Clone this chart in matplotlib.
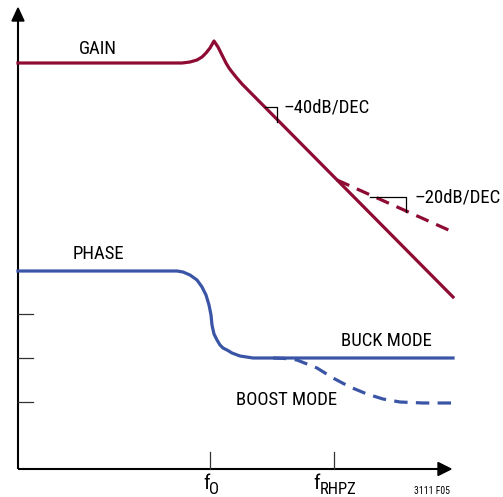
import matplotlib
matplotlib.use("Agg")
import matplotlib.pyplot as plt
from matplotlib.patches import Polygon

plt.rcParams['font.family'] = ['Roboto Condensed', 'DejaVu Sans']

W, H = 503, 497
GAIN_C = '#8E0B33'
PHASE_C = '#3A55A6'

# ---- data (chart coordinates: x to the right, y downward like the drawing) ----
gain_x = [18, 175, 182, 190, 197, 202, 206, 210, 214, 218, 222, 226, 229, 232, 236, 242, 453]
gain_y = [63, 63, 63, 62, 60, 57, 53, 48, 41, 47, 55, 63, 68, 72, 77, 84, 297]
gain_dash_x = [337, 453]
gain_dash_y = [180, 232]

phase_x = [18, 177, 183, 190, 197, 202, 206, 209, 211, 212, 214, 217, 220, 223, 227, 232, 240, 253, 453]
phase_y = [271, 271, 272, 275, 280, 287, 295, 305, 315, 325, 334, 340, 345, 348, 350, 353, 356, 358, 358]
boost_x = [273, 285, 297, 317, 333, 350, 367, 383, 400, 423, 453]
boost_y = [358, 358.5, 360, 368, 378, 387, 394, 399, 402, 403, 403]

ytick_pos = [314, 358, 402]
xtick_pos = [210, 334]
xlabel_main = ['f', 'f']
xlabel_sub = ['O', 'RHPZ']
xlabel_left = [203, 313]

fig = plt.figure(figsize=(W / 100, H / 100), dpi=100)
ax = fig.add_axes([0, 0, 1, 1])
ax.set_xlim(0, W)
ax.set_ylim(H, 0)
ax.axis('off')

# axes
ox, oy = 18, 469
ax.plot([ox, ox], [oy, 18], color='black', lw=1.5, solid_capstyle='butt')
ax.plot([ox, 440], [oy, oy], color='black', lw=1.5, solid_capstyle='butt')
ax.add_patch(Polygon([[ox, 8], [ox - 6, 21], [ox + 6, 21]], closed=True, color='black'))
ax.add_patch(Polygon([[451, oy], [438, oy - 6.5], [438, oy + 6.5]], closed=True, color='black'))

for y in ytick_pos:
    ax.plot([ox, ox + 15], [y, y], color='#333333', lw=0.9)
for x in xtick_pos:
    ax.plot([x, x], [oy, oy - 17], color='#333333', lw=0.9)

# curves
ax.plot(gain_x, gain_y, color=GAIN_C, lw=2.3, solid_joinstyle='round')
ax.plot(gain_dash_x, gain_dash_y, color=GAIN_C, lw=2.3, dashes=(4.2, 2.6))
ax.plot(phase_x, phase_y, color=PHASE_C, lw=2.3, solid_joinstyle='round')
ax.plot(boost_x, boost_y, color=PHASE_C, lw=2.3, dashes=(4.2, 2.6))

# slope markers
ax.plot([265, 277, 277], [107, 107, 122], color='black', lw=0.9)
ax.plot([370, 406, 406], [197, 197, 212], color='black', lw=0.9)

fs = 13.5
ax.text(79, 49, 'GAIN', fontsize=fs, va='center', ha='left')
ax.text(73, 254, 'PHASE', fontsize=fs, va='center', ha='left')
ax.text(284, 107, '\u201340dB/DEC', fontsize=fs, va='center', ha='left')
ax.text(415, 197, '\u201320dB/DEC', fontsize=fs, va='center', ha='left')
ax.text(341, 341, 'BUCK MODE', fontsize=fs, va='center', ha='left')
ax.text(236, 400, 'BOOST MODE', fontsize=fs, va='center', ha='left')

for xl, m, s in zip(xlabel_left, xlabel_main, xlabel_sub):
    ax.text(xl, 489, m, fontsize=15, va='baseline', ha='left')
    ax.text(xl + 6.5, 494, s, fontsize=12, va='baseline', ha='left')

ax.text(432, 491, '3111 F05', fontsize=7, va='center', ha='center')

fig.savefig('out.png', dpi=100)
